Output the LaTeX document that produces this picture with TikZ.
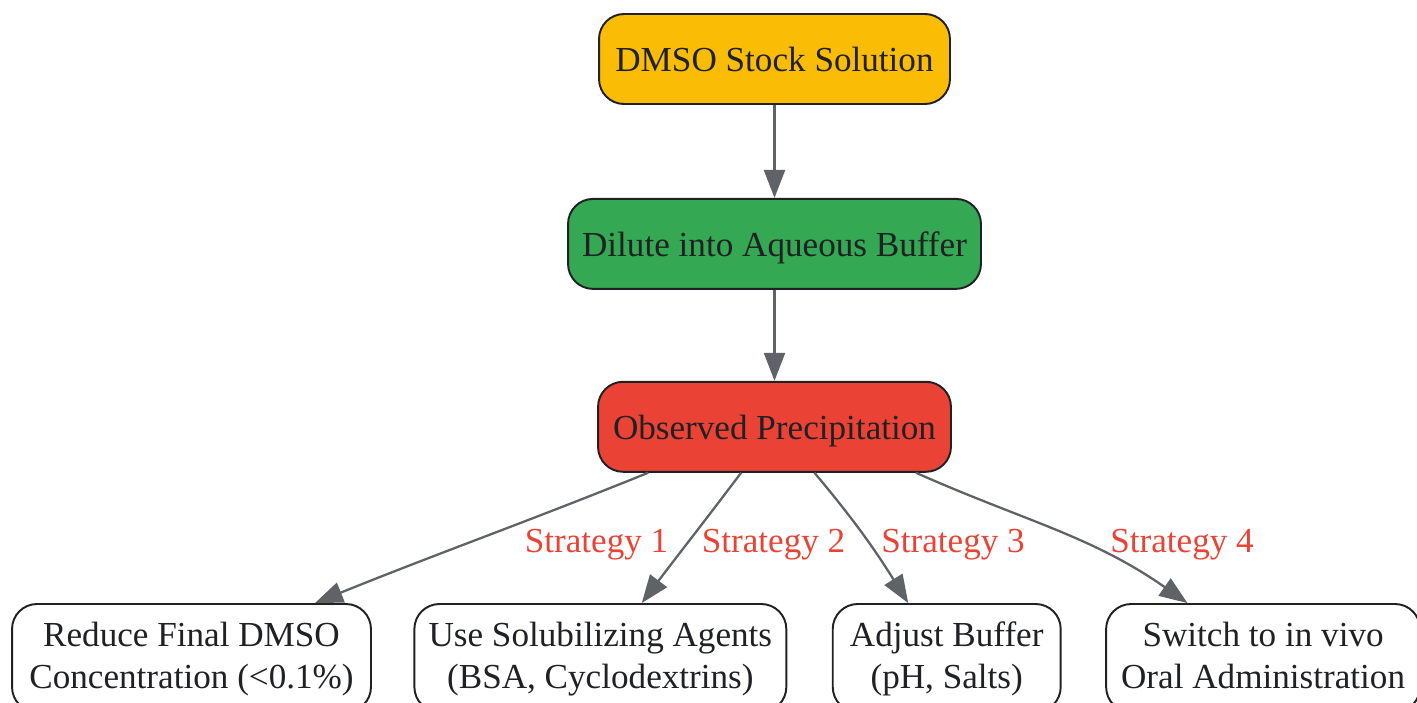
\documentclass[tikz,border=0pt]{standalone}
\usepackage{fontspec}
\setmainfont{Liberation Serif}
\usetikzlibrary{positioning, arrows.meta}

\definecolor{gold}{HTML}{FBBC05}
\definecolor{leaf}{HTML}{34A853}
\definecolor{alert}{HTML}{EA4335}
\definecolor{wire}{HTML}{5F6368}
\definecolor{ink}{HTML}{202124}

\begin{document}
\begin{tikzpicture}[x=0.02cm, y=0.02cm,
	box/.style={draw=ink, line width=1.1pt, rounded corners=0.5cm, text=ink,
		align=center, inner sep=0pt, minimum height=1.8cm,
		text height=14.5pt, text depth=0pt,
		font=\fontsize{20}{24}\selectfont},
	pick/.style={box, fill=white, minimum height=2.16cm, text height=38pt, text depth=2.8pt},
	lbl/.style={text=alert, anchor=base, font=\fontsize{20}{24}\selectfont},
	arr/.style={draw=wire, line width=1.3pt, -{Triangle[length=0.56cm, width=0.42cm]}}]
	\useasboundingbox (0,0) rectangle (1417,-703);

	\node[box, fill=gold, minimum width=7.02cm] (stock) at (774.5,-59) {DMSO Stock Solution};
	\node[box, fill=leaf, minimum width=8.26cm, below=1.86cm of stock] (dilute) {Dilute into Aqueous Buffer};
	\node[box, fill=alert, minimum width=7.06cm, below=1.82cm of dilute] (obs) {Observed Precipitation};

	\node[pick, minimum width=7.18cm] (reduce) at (191.5,-658) {Reduce Final DMSO\\Concentration (<0.1\%)};
	\node[pick, minimum width=7.44cm, right=0.83cm of reduce] (solub) {Use Solubilizing Agents\\(BSA, Cyclodextrins)};
	\node[pick, minimum width=4.56cm, right=0.89cm of solub] (buffer) {Adjust Buffer\\(pH, Salts)};
	\node[pick, minimum width=6.28cm, right=0.87cm of buffer] (oral) {Switch to in vivo\\Oral Administration};

	\node[lbl] (s1) at (596.5,-552) {Strategy 1};
	\node[lbl] (s2) at (773.5,-552) {Strategy 2};
	\node[lbl] (s3) at (953,-552) {Strategy 3};
	\node[lbl] (s4) at (1182,-552) {Strategy 4};

	\path
		(stock) edge[arr] (dilute)
		(dilute) edge[arr] (obs)
		(obs.-160) edge[arr, out=-158, in=22] (reduce.24)
		(obs.-126) edge[arr, out=-127, in=53] (solub.53)
		(obs.-49) edge[arr, out=-50, in=122] (buffer.125)
		(obs.-18) edge[arr, out=-24, in=145] (oral.144)
		;
\end{tikzpicture}
\end{document}
